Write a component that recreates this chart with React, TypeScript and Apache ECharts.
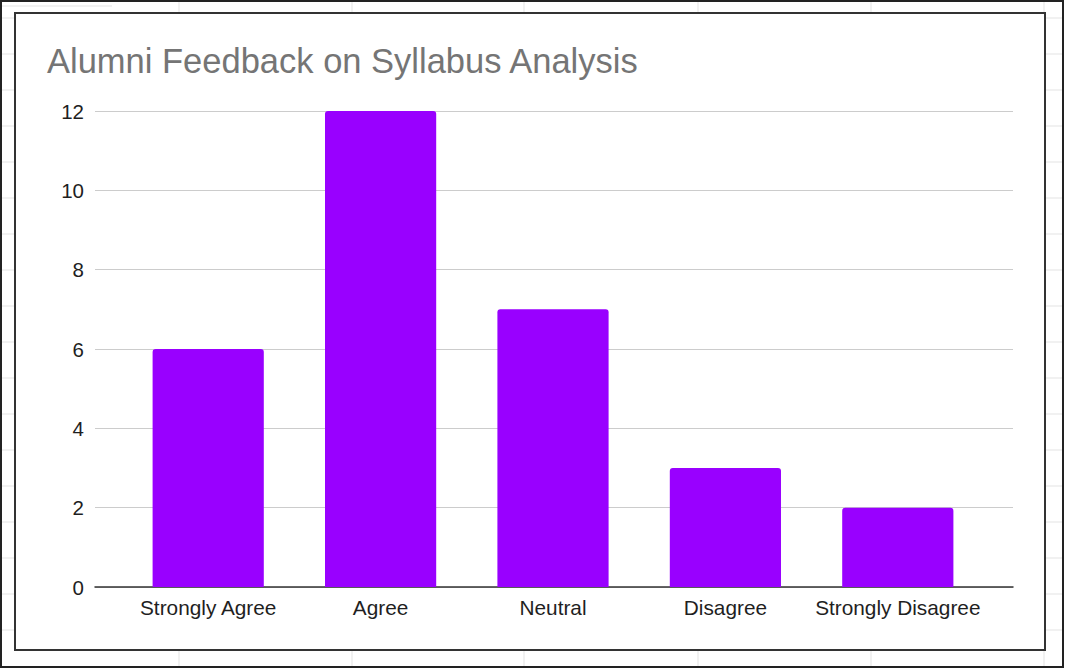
import React, { useEffect, useRef } from "react";
import * as echarts from "echarts";

const categories = ["Strongly Agree", "Agree", "Neutral", "Disagree", "Strongly Disagree"];
const responses = [6, 12, 7, 3, 2];
const yTicks = [0, 2, 4, 6, 8, 10, 12];
const titleText = "Alumni Feedback on Syllabus Analysis";

const sheetCols = [179, 352, 524, 698, 871, 1044];
const sheetRows = Array.from({ length: 18 }, (_, k) => 18 + 36 * k);

export default function App() {
  const ref = useRef<HTMLDivElement>(null);
  useEffect(() => {
    document.body.style.margin = "0";
    const chart = echarts.init(ref.current!, null, { renderer: "svg" });
    const font = "Arial, 'Liberation Sans', sans-serif";
    const gridEls: any[] = [];
    sheetRows.forEach((y) =>
      gridEls.push({
        type: "line",
        z: 0,
        shape: { x1: 2, y1: y, x2: 1063, y2: y },
        style: { stroke: "#e3e3e3", lineWidth: 1 },
      })
    );
    sheetCols.forEach((x) =>
      gridEls.push({
        type: "line",
        z: 0,
        shape: { x1: x, y1: 2, x2: x, y2: 666 },
        style: { stroke: "#e3e3e3", lineWidth: 1 },
      })
    );
    gridEls.push({
      type: "line",
      z: 0,
      shape: { x1: 2, y1: 6, x2: 112, y2: 6 },
      style: { stroke: "#e3e3e3", lineWidth: 1 },
    });
    chart.setOption({
      animation: false,
      backgroundColor: "#ffffff",
      title: {
        text: titleText,
        left: 47,
        top: 43,
        padding: 0,
        textStyle: { fontFamily: font, fontSize: 34.5, fontWeight: "normal", color: "#757575" },
      },
      graphic: [
        ...gridEls,
        {
          type: "rect",
          z: 0,
          shape: { x: 1, y: 1, width: 1062, height: 666 },
          style: { fill: "none", stroke: "#222", lineWidth: 2 },
        },
        {
          type: "rect",
          z: 0,
          shape: { x: 15, y: 13, width: 1030, height: 637 },
          style: { fill: "#ffffff", stroke: "#333", lineWidth: 2 },
        },
      ],
      grid: [
        { left: 95, right: 52, top: 111, bottom: 82 },
        { left: 122, right: 81, top: 111, bottom: 82 },
      ],
      xAxis: [
        {
          gridIndex: 0,
          type: "category",
          data: [""],
          z: 2,
          axisLine: { show: true, lineStyle: { color: "#333", width: 1.5 } },
          axisTick: { show: false },
          axisLabel: { show: false },
          splitLine: { show: false },
        },
        {
          gridIndex: 1,
          type: "category",
          data: categories,
          z: 2,
          axisLine: { show: false },
          axisTick: { show: false },
          axisLabel: { fontFamily: font, fontSize: 20.8, color: "#1f1f1f", margin: 10, interval: 0 },
        },
      ],
      yAxis: [
        {
          gridIndex: 0,
          type: "value",
          min: yTicks[0],
          max: yTicks[yTicks.length - 1],
          interval: 2,
          z: 1,
          axisLine: { show: false },
          axisTick: { show: false },
          axisLabel: { fontFamily: font, fontSize: 20.5, color: "#1f1f1f", margin: 11 },
          splitLine: { lineStyle: { color: "#cccccc", width: 1 } },
        },
        {
          gridIndex: 1,
          type: "value",
          min: 0,
          max: 12,
          interval: 2,
          show: false,
          splitLine: { show: false },
        },
      ],
      series: [
        {
          type: "bar",
          xAxisIndex: 1,
          yAxisIndex: 1,
          data: responses,
          barWidth: "64.5%",
          z: 3,
          itemStyle: { color: "#9900ff", borderRadius: [3, 3, 0, 0] },
        },
      ],
    });
    return () => chart.dispose();
  }, []);
  return <div ref={ref} style={{ width: 1065, height: 669 }} />;
}
